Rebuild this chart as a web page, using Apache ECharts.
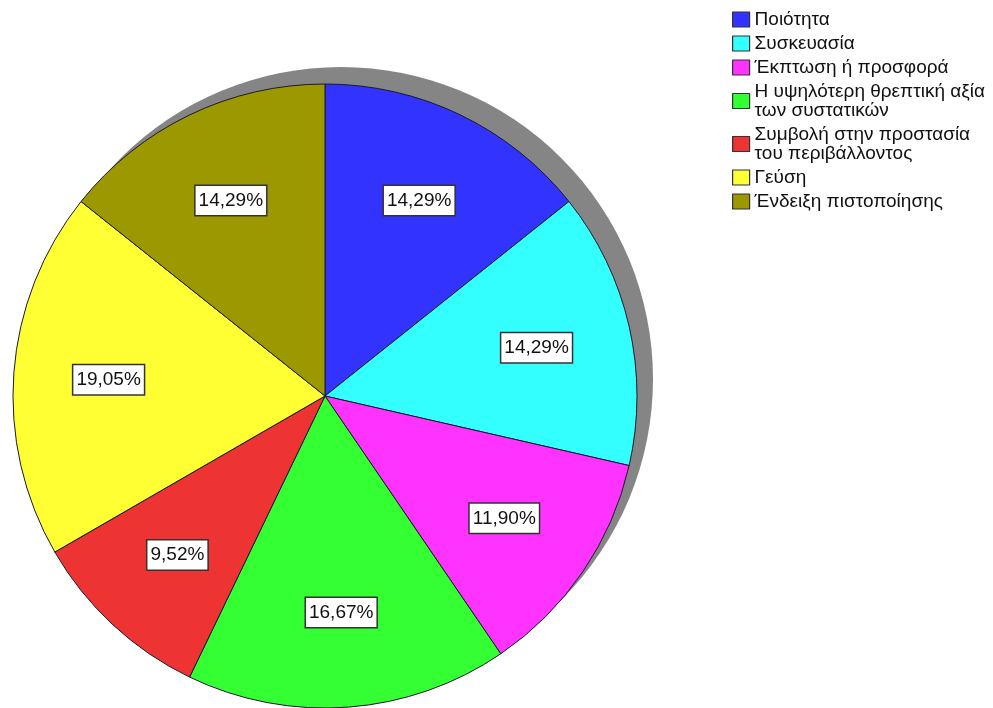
<!DOCTYPE html>
<html>
<head>
<meta charset="utf-8">
<script src="https://cdn.jsdelivr.net/npm/echarts@6/dist/echarts.min.js"></script>
<style>
html,body{margin:0;padding:0;background:#fff;}
#chart{width:993px;height:708px;}
</style>
</head>
<body>
<div id="chart"></div>
<script>
const categories = [
  'Ποιότητα',
  'Συσκευασία',
  'Έκπτωση ή προσφορά',
  'Η υψηλότερη θρεπτική αξία\nτων συστατικών',
  'Συμβολή στην προστασία\nτου περιβάλλοντος',
  'Γεύση',
  'Ένδειξη πιστοποίησης'
];
const percentages = [14.29, 14.29, 11.90, 16.67, 9.52, 19.05, 14.29];
const colors = ['#3333ff', '#33ffff', '#ff33ff', '#33ff33', '#ee3333', '#ffff33', '#9c9900'];

const FONT = 'Liberation Sans, Arial, sans-serif';
const CX = 325, CY = 396, R = 312;

const pieData = categories.map((c, i) => ({
  name: c, value: percentages[i], itemStyle: { color: colors[i] }
}));
const labelData = categories.map((c, i) => ({ name: c, value: percentages[i] }));

const chart = echarts.init(document.getElementById('chart'), null, { renderer: 'canvas' });
chart.setOption({
  backgroundColor: '#ffffff',
  animation: false,
  legend: {
    orient: 'vertical',
    left: 732,
    top: 10,
    padding: 0,
    itemWidth: 17,
    itemHeight: 15,
    itemGap: 5,
    icon: 'rect',
    data: categories,
    itemStyle: { borderColor: '#333', borderWidth: 1.2 },
    textStyle: { fontFamily: FONT, fontSize: 19, lineHeight: 19, color: '#111' },
    selectedMode: false
  },
  series: [
    {
      type: 'pie',
      silent: true,
      center: [CX + 16, CY - 17],
      radius: R,
      z: 1,
      label: { show: false },
      labelLine: { show: false },
      itemStyle: { color: '#858585' },
      data: [{ name: '_shadow', value: 1 }],
      legendHoverLink: false
    },
    {
      type: 'pie',
      center: [CX, CY],
      radius: R,
      startAngle: 90,
      clockwise: true,
      z: 2,
      label: { show: false },
      labelLine: { show: false },
      itemStyle: { borderColor: '#1a1a2a', borderWidth: 1 },
      data: pieData
    },
    {
      type: 'pie',
      silent: true,
      center: [CX, CY],
      radius: [116, R],
      startAngle: 90,
      clockwise: true,
      z: 3,
      itemStyle: { color: 'rgba(0,0,0,0)', borderWidth: 0 },
      labelLine: { show: false },
      label: {
        show: true,
        position: 'inside',
        formatter: p => p.value.toFixed(2).replace('.', ',') + '%',
        fontFamily: FONT,
        fontSize: 19,
        lineHeight: 19,
        color: '#111',
        backgroundColor: '#ffffff',
        borderColor: '#333',
        borderWidth: 1.5,
        padding: [5, 3, 5, 3]
      },
      data: labelData
    }
  ]
});
</script>
</body>
</html>
